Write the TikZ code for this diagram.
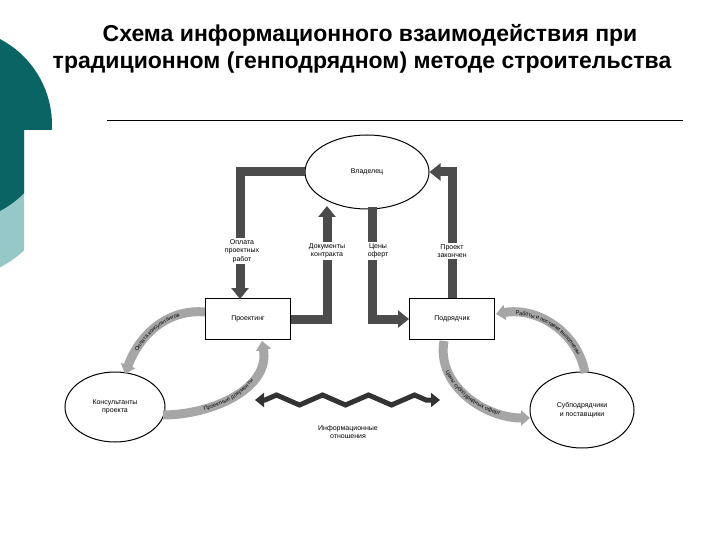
\documentclass[tikz,border=0pt]{standalone}
\usepackage{fontspec}
\setmainfont{Liberation Sans}
\usetikzlibrary{arrows.meta,decorations.text,decorations.pathmorphing,shapes.geometric}
\definecolor{dteal}{RGB}{10,100,100}
\definecolor{lteal}{RGB}{150,200,200}
\begin{document}
\begin{tikzpicture}[x=1pt,y=-1pt,
  big/.style={line width=9pt,draw=black!70,-{Triangle[length=11pt,width=17pt]}},
  lab/.style={fill=white,font=\fontsize{7}{8.5}\selectfont,align=center,inner sep=1.5pt},
  box/.style={draw,line width=1pt,fill=white,minimum width=85pt,minimum height=41pt,font=\fontsize{7}{8}\selectfont},
  ell/.style={draw,line width=1pt,fill=white,ellipse,font=\fontsize{7}{8.5}\selectfont,align=center,inner sep=0pt},
  curv/.style={line width=9pt,draw=black!35,-{Triangle[length=9pt,width=15pt]}},
  ctext/.style={decoration={text along path,text align=center,raise=-1.8pt,text={|\fontsize{5.5}{6}\selectfont|#1}},decorate},
  ttl/.style={font=\bfseries\fontsize{23}{26}\selectfont}]
\useasboundingbox (0,0) rectangle (720,540);
\fill[white] (0,0) rectangle (720,540);
% corner decoration
\begin{scope}
\clip (0,0) -- (52,0) -- (52,130) -- (24,130) -- (24,300) -- (0,300) -- cycle;
\fill[lteal] (-45,178) circle[radius=100];
\begin{scope}
\clip (0,0) rectangle (60,215);
\fill[dteal] (-45,125) circle[radius=97];
\end{scope}
\end{scope}
% title
\node[ttl,inner sep=0pt] (t1) at (370,35) {Схема информационного взаимодействия при};
\node[ttl,inner sep=0pt] (t2) at (362,63) {традиционном (генподрядном) методе строительства};
\coordinate (l1) at (107,120);
\coordinate (l2) at (683,120);
\draw[line width=0.8pt] (l1) -- (l2);
% nodes
\node[ell,minimum width=124pt,minimum height=74pt] (own) at (367,172) {Владелец};
\node[box] (pr) at (248,319) {Проектинг};
\node[box] (con) at (452,319) {Подрядчик};
\node[ell,minimum width=100pt,minimum height=70pt] (cons) at (115,407) {Консультанты\\проекта};
\node[ell,minimum width=104pt,minimum height=76pt] (sub) at (582,410) {Субподрядчики\\и поставщики};
% big arrows
\coordinate (p1) at (240,299);
\coordinate (p2) at (327,206);
\coordinate (p3) at (372,207);
\coordinate (p3b) at (372,319);
\draw[big] (own.west) -| (p1);
\draw[big] (pr.east) -| (p2);
\draw[big] (p3) -- (p3b) -- (con.west);
\draw[big] (con.north) |- (own.east);
\node[lab] (a1) at (242,251) {Оплата\\проектных\\работ};
\node[lab] (a2) at (327,251) {Документы\\контракта};
\node[lab] (a3) at (378,251) {Цены\\оферт};
\node[lab] (a4) at (452,251) {Проект\\закончен};
% curved arrows
\coordinate (c1) at (205,312);
\coordinate (c2) at (125,374);
\coordinate (c3) at (163,415);
\coordinate (c4) at (262,341);
\coordinate (c5) at (496,314);
\coordinate (c6) at (585,373);
\coordinate (c7) at (444,341);
\coordinate (c8) at (530,418);
\draw[curv] (c1) to[out=175,in=70] (c2);
\path[ctext={Оплата консультантов}] (c2) to[out=70,in=175] (c1);
\draw[curv] (c3) to[out=0,in=-80] (c4);
\path[ctext={Проектные документы}] (c3) to[out=0,in=-80] (c4);
\draw[curv,{Triangle[length=9pt,width=15pt]}-] (c5) to[out=10,in=100] (c6);
\path[ctext={Работы и поставки выполнены}] (c5) to[out=10,in=100] (c6);
\draw[curv] (c7) to[out=-100,in=180] (c8);
\path[ctext={Цены субподрядных оферт}] (c7) to[out=-100,in=180] (c8);
% wavy
\coordinate (w1) at (255,400);
\coordinate (w2) at (440,400);
\draw[line width=5pt,draw=black!80,{Triangle[length=9pt,width=14pt]}-{Triangle[length=9pt,width=14pt]},
  decorate,decoration={zigzag,segment length=46pt,amplitude=5pt,pre length=10pt,post length=10pt}] (w1) -- (w2);
\node[font=\fontsize{7}{8.5}\selectfont,align=center] (inf) at (348,432) {Информационные\\отношения};
\end{tikzpicture}
\end{document}
